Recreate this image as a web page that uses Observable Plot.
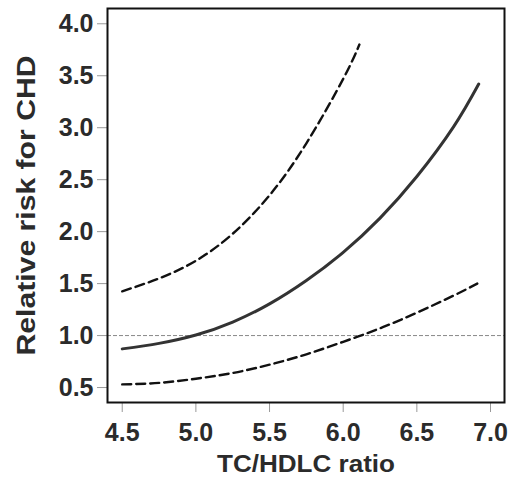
<!DOCTYPE html>
<html>
<head>
<meta charset="utf-8">
<script src="https://cdn.jsdelivr.net/npm/d3@7"></script>
<script src="https://cdn.jsdelivr.net/npm/@observablehq/plot@0.6"></script>
<style>
  html, body { margin: 0; padding: 0; background: white; }
</style>
</head>
<body>
<div id="chart"></div>
<script>
// Central estimate: relative risk vs TC/HDLC ratio
const ratio = [4.5, 4.75, 5.0, 5.25, 5.5, 5.75, 6.0, 6.25, 6.5, 6.75, 6.92];
const rr    = [0.872, 0.925, 1.005, 1.13, 1.305, 1.53, 1.80, 2.13, 2.53, 3.01, 3.42];
// Upper confidence limit
const upperRatio = [4.5, 4.75, 5.0, 5.25, 5.5, 5.75, 6.0, 6.11];
const upperRR    = [1.426, 1.55, 1.72, 1.98, 2.35, 2.85, 3.47, 3.80];
// Lower confidence limit
const lowerRatio = [4.5, 4.75, 5.0, 5.25, 5.5, 5.75, 6.0, 6.25, 6.5, 6.75, 6.91];
const lowerRR    = [0.53, 0.545, 0.585, 0.64, 0.72, 0.82, 0.94, 1.07, 1.22, 1.385, 1.50];
// Reference level and tick labels
const refLevel = [1.0];
const xTicks = [4.5, 5.0, 5.5, 6.0, 6.5, 7.0];
const yTicks = [0.5, 1.0, 1.5, 2.0, 2.5, 3.0, 3.5, 4.0];
const xTitle = "TC/HDLC ratio";
const yTitle = "Relative risk for CHD";

const central = ratio.map((x, i) => ({x, y: rr[i]}));
const upper = upperRatio.map((x, i) => ({x, y: upperRR[i]}));
const lower = lowerRatio.map((x, i) => ({x, y: lowerRR[i]}));

const textColor = "#2b2b2b";

const chart = Plot.plot({
  width: 512,
  height: 483,
  marginLeft: 107,
  marginRight: 8,
  marginTop: 8,
  marginBottom: 81,
  style: {
    fontFamily: "'Liberation Sans', Arial, sans-serif",
    fontSize: "25px",
    fontWeight: "bold",
    background: "white",
    color: textColor
  },
  x: { domain: [4.40, 7.095] },
  y: { domain: [0.356, 4.147] },
  marks: [
    Plot.ruleY(refLevel, { stroke: "#888", strokeWidth: 1, strokeDasharray: "4,2" }),
    Plot.line(upper, { x: "x", y: "y", curve: "natural", stroke: "#111", strokeWidth: 2.4, strokeDasharray: "9,5" }),
    Plot.line(lower, { x: "x", y: "y", curve: "natural", stroke: "#111", strokeWidth: 2.4, strokeDasharray: "9,5" }),
    Plot.line(central, { x: "x", y: "y", curve: "natural", stroke: "#333", strokeWidth: 3 }),
    Plot.axisX(xTicks, { tickSize: 10, stroke: "#999", tickFormat: () => "", label: null }),
    Plot.axisX(xTicks, { tickSize: 0, tickPadding: 21, tickFormat: d3.format(".1f"), fill: textColor,
      label: xTitle, labelAnchor: "center", labelArrow: "none", labelOffset: 69 }),
    Plot.axisY(yTicks, { tickSize: 10, stroke: "#999", tickFormat: () => "", label: null }),
    Plot.axisY(yTicks, { tickSize: 0, tickPadding: 14, tickFormat: d3.format(".1f"), fill: textColor,
      label: yTitle, labelAnchor: "center", labelArrow: "none", labelOffset: 90 }),
    Plot.frame({ stroke: "#111", strokeWidth: 2 })
  ]
});

document.getElementById("chart").appendChild(chart);

// stretch the titles to the lengths seen in the original scan
d3.select(chart).selectAll('g[aria-label="y-axis label"] text')
  .attr("textLength", 300)
  .attr("lengthAdjust", "spacingAndGlyphs");
d3.select(chart).selectAll('g[aria-label="x-axis label"] text')
  .attr("font-size", "24px")
  .attr("textLength", 178)
  .attr("lengthAdjust", "spacingAndGlyphs");
</script>
</body>
</html>
